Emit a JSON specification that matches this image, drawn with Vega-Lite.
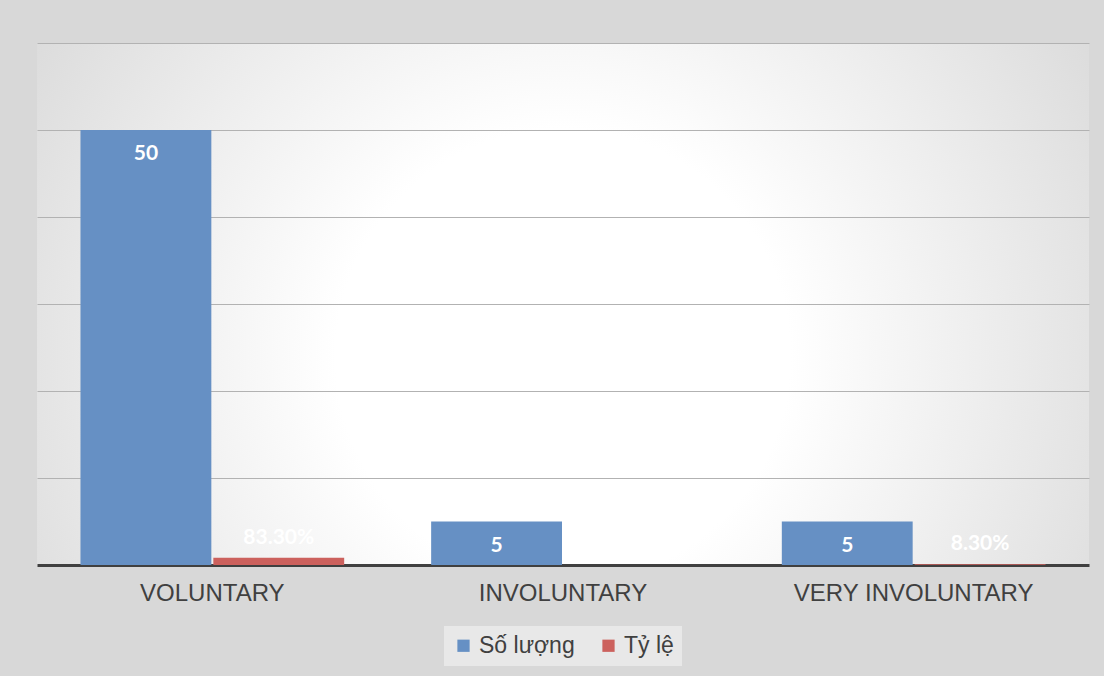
{
  "$schema": "https://vega.github.io/schema/vega-lite/v6.json",
  "width": 1052,
  "height": 522,
  "padding": {"left": 37, "top": 43, "right": 15, "bottom": 10},
  "background": "#d8d8d8",
  "config": {
    "view": {
      "stroke": null,
      "fill": {
        "gradient": "radial",
        "x1": 0.5, "y1": 0.55, "r1": 0,
        "x2": 0.5, "y2": 0.55, "r2": 0.72,
        "stops": [
          {"offset": 0, "color": "#ffffff"},
          {"offset": 0.3, "color": "#ffffff"},
          {"offset": 1, "color": "#cfcfcf"}
        ]
      }
    },
    "font": "Liberation Sans",
    "legend": {"layout": {"bottom": {"anchor": "middle"}}}
  },
  "data": {
    "values": [
      {"category": "VOLUNTARY", "series": "Số lượng", "value": 50},
      {"category": "VOLUNTARY", "series": "Tỷ lệ", "value": 0.833},
      {"category": "INVOLUNTARY", "series": "Số lượng", "value": 5},
      {"category": "INVOLUNTARY", "series": "Tỷ lệ", "value": null},
      {"category": "VERY INVOLUNTARY", "series": "Số lượng", "value": 5},
      {"category": "VERY INVOLUNTARY", "series": "Tỷ lệ", "value": 0.083}
    ]
  },
  "encoding": {
    "x": {
      "field": "category",
      "type": "nominal",
      "sort": ["VOLUNTARY", "INVOLUNTARY", "VERY INVOLUNTARY"],
      "scale": {"paddingInner": 0.248, "paddingOuter": 0.124},
      "axis": {
        "title": null,
        "labelAngle": 0,
        "labelFontSize": 24,
        "labelColor": "#404040",
        "labelPadding": 16,
        "labelLimit": 0,
        "ticks": false,
        "grid": false,
        "domainColor": "#404040",
        "domainWidth": 3
      }
    },
    "xOffset": {
      "field": "series",
      "type": "nominal",
      "sort": ["Số lượng", "Tỷ lệ"],
      "scale": {"paddingInner": 0.015}
    },
    "y": {
      "field": "value",
      "type": "quantitative",
      "scale": {"domain": [0, 60]},
      "axis": {
        "title": null,
        "labels": false,
        "ticks": false,
        "domain": false,
        "grid": true,
        "values": [10, 20, 30, 40, 50, 60],
        "gridColor": "#b2b2b2",
        "gridWidth": 1
      }
    }
  },
  "layer": [
    {
      "mark": {"type": "bar"},
      "encoding": {
        "color": {
          "field": "series",
          "type": "nominal",
          "scale": {"domain": ["Số lượng", "Tỷ lệ"], "range": ["#6690c4", "#cc615d"]},
          "legend": {
            "orient": "bottom",
            "title": null,
            "labelFontSize": 23,
            "labelColor": "#404040",
            "symbolType": "square",
            "symbolSize": 150,
            "symbolStrokeWidth": 0,
            "columnPadding": 22,
            "labelOffset": 4,
            "fillColor": "#e8e8e8",
            "padding": 8,
            "offset": 21
          }
        }
      }
    },
    {
      "transform": [{"filter": "datum.series === 'Số lượng'"}],
      "mark": {"type": "text", "baseline": "middle", "dy": 24, "color": "#ffffff", "font": "Lato", "fontWeight": "bold", "fontSize": 21},
      "encoding": {"text": {"field": "value", "type": "quantitative", "format": "d"}}
    },
    {
      "transform": [{"filter": "datum.series === 'Tỷ lệ' && datum.value != null"}],
      "mark": {"type": "text", "baseline": "middle", "dy": -20, "color": "#ffffff", "font": "Lato", "fontWeight": "bold", "fontSize": 21},
      "encoding": {"text": {"field": "value", "type": "quantitative", "format": ".2%"}}
    }
  ]
}
